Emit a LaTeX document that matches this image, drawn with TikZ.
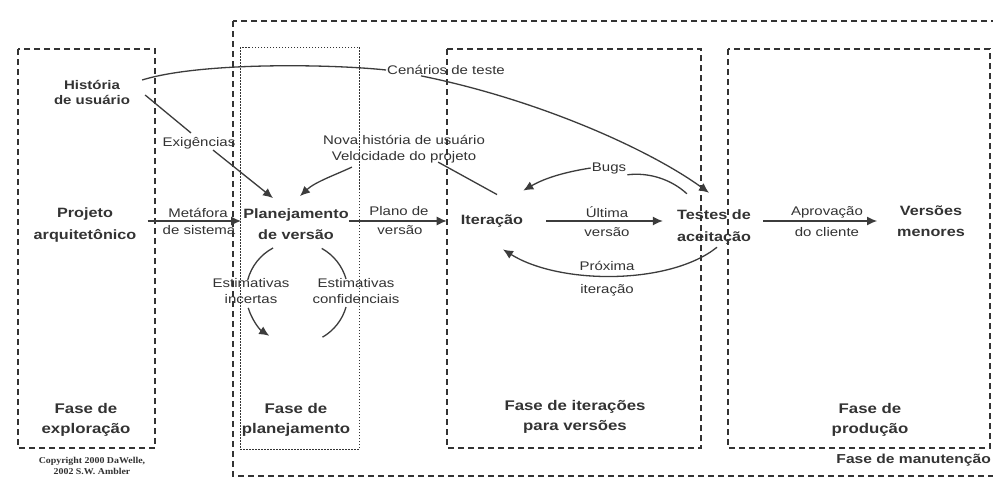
\documentclass[tikz,border=0pt]{standalone}
\usepackage{fontspec}
\setmainfont{Liberation Sans}[FakeStretch=1.2]
\newfontfamily\cpyfont{Liberation Serif}[FakeStretch=1.1]
\usetikzlibrary{arrows.meta,calc}
\definecolor{ink}{HTML}{333333}
\definecolor{linec}{HTML}{3C3C3C}
\begin{document}
\begin{tikzpicture}[x=1pt,y=-1pt,
  every node/.style={text=ink, align=center, inner sep=2pt},
  head/.style={font=\fontsize{13.5}{21.5}\selectfont\bfseries},
  histf/.style={font=\fontsize{12.5}{15}\selectfont\bfseries},
  phase/.style={font=\fontsize{14}{20}\selectfont\bfseries},
  lbl/.style={font=\fontsize{12.5}{16}\selectfont, inner sep=1pt},
  conn/.style={draw=linec, line width=1.3pt},
  arr/.style={conn, -{Latex[length=10pt,width=9pt]}},
  dbox/.style={draw=ink, line width=1.9pt, dash pattern=on 6pt off 4pt},
  pbox/.style={draw=ink, line width=1pt, dash pattern=on 1.5pt off 1.5pt}]
\useasboundingbox (0,0) rectangle (993,479);
\fill[white] (0,0) rectangle (993,479);
% boxes
\begin{scope}
\clip (0,0) rectangle (993,479);
\draw[dbox] (233,21) rectangle (1010,476);
\end{scope}
\draw[dbox] (18,49) rectangle (155,448);
\draw[pbox] (240,47) rectangle (359,449);
\draw[dbox] (447,49) rectangle (701,448);
\draw[dbox] (728,49) rectangle (990,448);
% main nodes
\node[histf] (hist) at (92,92) {História\\de usuário};
\node[head] (proj) at (85,225) {Projeto\\arquitetônico};
\node[head] (plan) at (296,224) {Planejamento\\de versão};
\node[head] (iter) at (492,221) {Iteração};
\node[head] (test) at (714,227) {Testes de\\aceitação};
\node[head] (vers) at (931,221) {Versões\\menores};
% phase labels
\node[phase] (fexp) at (86,420) {Fase de\\exploração};
\node[phase] (fplan) at (296,420) {Fase de\\planejamento};
\node[phase] (fit) at (575,417) {Fase de iterações\\para versões};
\node[phase] (fprod) at (870,420) {Fase de\\produção};
\node[phase, font=\fontsize{13}{20}\selectfont\bfseries, anchor=east, inner sep=1pt] (fman) at (992,460) {Fase de manutenção};
\node[font=\fontsize{9}{11.5}\selectfont\cpyfont\bfseries, inner sep=1pt] (copy) at (92,466) {Copyright 2000 DaWelle,\\2002 S.W. Ambler};
% connector labels
\node[lbl] (cen) at (446,70) {Cenários de teste};
\node[lbl] (exig) at (199,143) {Exigências};
\node[lbl] (nova) at (404,149) {Nova história de usuário\\Velocidade do projeto};
\node[lbl] (bugs) at (609,168) {Bugs};
\node[lbl] (meta1) at (198,213) {Metáfora};
\node[lbl] (meta2) at (199,230) {de sistema};
\node[lbl] (plano1) at (399,211) {Plano de};
\node[lbl] (plano2) at (400,230) {versão};
\node[lbl] (ult1) at (607,212) {Última};
\node[lbl] (ult2) at (607,232) {versão};
\node[lbl] (apr1) at (827,212) {Aprovação};
\node[lbl] (apr2) at (827,232) {do cliente};
\node[lbl] (prox1) at (607,266) {Próxima};
\node[lbl] (prox2) at (607,290) {iteração};
\node[lbl] (estinc) at (251,291) {Estimativas\\incertas};
\node[lbl] (estconf) at (356,291) {Estimativas\\confidenciais};
% connectors
\draw[conn] ($(hist.east)+(10,-12)$) .. controls (200,62) and (330,64) .. (cen.west);
\draw[arr] ($(cen.south)+(-25,0)$) .. controls (540,100) and (650,150) .. ($(test.north)+(-5,-15)$);
\draw[conn] ($(hist.east)+(13,3)$) -- ($(exig.north)+(-8,-3)$);
\draw[arr] ($(exig.south)+(14,0)$) -- ($(plan.north)+(-23,-8)$);
\draw[conn] ($(iter.north)+(5,-18)$) -- ($(nova.south east)+(-48,-2)$);
\draw[arr] ($(nova.south west)+(30,3)$) .. controls (335,175) and (315,182) .. ($(plan.north)+(4,-10)$);
\draw[arr] ($(proj.east)+(9,-4)$) -- ($(plan.west)+(0,-3)$);
\draw[arr] ($(plan.east)+(-2,-3)$) -- ($(iter.west)+(-12,0)$);
\draw[arr] ($(iter.east)+(21,0)$) -- ($(test.west)+(-12,-6)$);
\draw[arr] ($(test.east)+(10,-6)$) -- ($(vers.west)+(-18,0)$);
\draw[conn] ($(test.north west)+(12,-14)$) .. controls (672,180) and (650,172) .. (bugs.south east);
\draw[arr] (bugs.west) .. controls (565,172) and (545,178) .. ($(iter.north east)+(-2,-22)$);
\draw[arr] ($(test.south)+(3,1)$) .. controls (670,285) and (560,285) .. ($(iter.south)+(11,20)$);
% estimation loop
\coordinate (cc) at (297,293);
\draw[conn] (cc) ++(242:51) arc[start angle=242, end angle=195, radius=51];
\draw[arr] (cc) ++(163:51) arc[start angle=163, end angle=123, radius=51];
\draw[conn] (cc) ++(299:51) arc[start angle=299, end angle=344, radius=51];
\draw[conn] (cc) ++(16:51) arc[start angle=16, end angle=60, radius=51];
\end{tikzpicture}
\end{document}
